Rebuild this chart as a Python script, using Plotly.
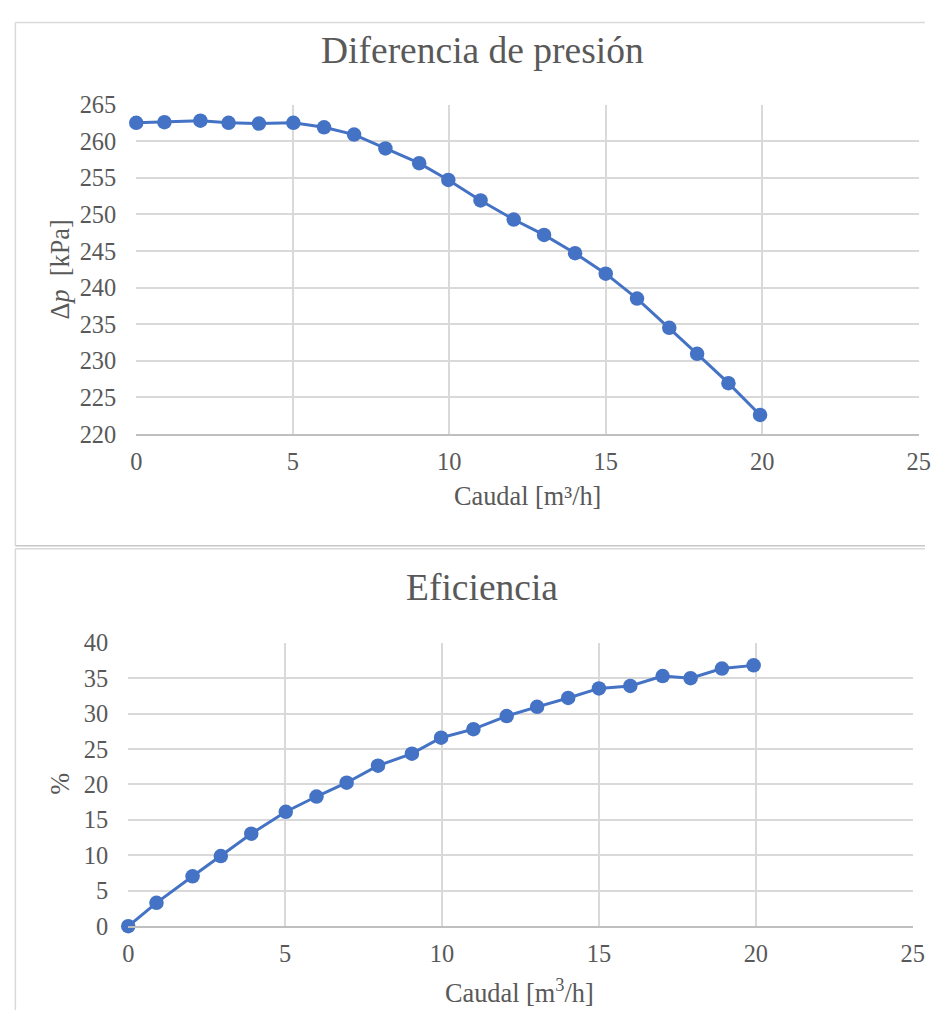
import plotly.graph_objects as go

# ---- data ----
caudal = [0, 0.9, 2.05, 2.95, 3.92, 5.02, 6.0, 6.96, 7.96, 9.04, 9.97,
          11.0, 12.06, 13.03, 14.02, 15.0, 16.0, 17.03, 17.92, 18.92, 19.93]
delta_p = [262.5, 262.6, 262.8, 262.5, 262.4, 262.5, 261.9, 260.9, 259.0, 257.0, 254.7,
           251.9, 249.3, 247.2, 244.7, 241.9, 238.5, 234.5, 230.95, 226.95, 222.6]
eficiencia = [0, 3.3, 7.05, 9.9, 13.05, 16.15, 18.3, 20.25, 22.65, 24.35, 26.6,
              27.8, 29.65, 30.95, 32.2, 33.55, 33.9, 35.3, 35.0, 36.35, 36.8]

title_top = "Diferencia de presión"
title_bot = "Eficiencia"
xlabel_top = "Caudal [m³/h]"
xlabel_bot = "Caudal [m<sup>3</sup>/h]"
ylabel_top = "Δ<i>p</i>\u00a0\u00a0[kPa]"
ylabel_bot = "%"

# figure size (page body margin of 8px around it)
OFF = 8
W, H = 945 - 2 * OFF, 1032 - 2 * OFF
# observed mapping page -> picture: pic = A + B * page
AX, BX = 6.0, 0.98
AY, BY = 11.5, 0.975

def px(x):
    f = (x - AX) / BX - OFF
    return min(max(f / W, 0.0015), 1.0)
def py(y):
    f = (y - AY) / BY - OFF
    return min(max(1 - f / H, 0.0), 0.9985)

BLUE = "#4472C4"
GRID = "#d9d9d9"
TXT = "#595959"
FONT = "Liberation Serif"

fig = go.Figure()
fig.add_trace(go.Scatter(x=caudal, y=delta_p, mode="lines+markers",
                         line=dict(color=BLUE, width=3),
                         marker=dict(color=BLUE, size=14.5),
                         cliponaxis=False, xaxis="x", yaxis="y"))
fig.add_trace(go.Scatter(x=caudal, y=eficiencia, mode="lines+markers",
                         line=dict(color=BLUE, width=3),
                         marker=dict(color=BLUE, size=14.5),
                         cliponaxis=False, xaxis="x2", yaxis="y2"))

common_x = dict(range=[0, 25], dtick=5, tick0=0, showgrid=True, gridcolor=GRID,
                gridwidth=1.5, zeroline=False, showline=True, linecolor="#bfbfbf",
                linewidth=1.5, ticks="", ticklabelstandoff=5,
                tickfont=dict(family=FONT, size=24.4, color=TXT))
common_y = dict(dtick=5, showgrid=True, gridcolor=GRID, gridwidth=1.5,
                zeroline=False, showline=False, ticks="", ticklabelstandoff=19,
                tickfont=dict(family=FONT, size=24.4, color=TXT))

fig.update_layout(
    width=W, height=H, margin=dict(l=0, r=0, t=0, b=0),
    paper_bgcolor="white", plot_bgcolor="white", showlegend=False,
    xaxis=dict(domain=[px(136), px(918)], anchor="y", **common_x),
    yaxis=dict(domain=[py(433), py(103)], anchor="x", range=[220, 265], tick0=220, **common_y),
    xaxis2=dict(domain=[px(128), px(912)], anchor="y2", **common_x),
    yaxis2=dict(domain=[py(926), py(642)], anchor="x2", range=[0, 40], tick0=0, **common_y),
)

# chart frames (left, top and bottom edges only; right edge is off-picture)
def frame_line(x0, y0, x1, y1, color):
    fig.add_shape(type="line", xref="paper", yref="paper", x0=x0, y0=y0, x1=x1, y1=y1,
                  line=dict(color=color, width=1.5), layer="below")

frame_line(px(7), py(8), 1.0, py(8), "#d9d9d9")
frame_line(px(7), py(8), px(7), py(545), "#d9d9d9")
frame_line(px(7), py(545), 1.0, py(545), "#c8c8c8")
frame_line(px(12), py(548), 1.0, py(548), "#d9d9d9")
frame_line(px(12), py(548), px(12), 0.0, "#d9d9d9")

def ann(text, x, y, size, angle=0):
    fig.add_annotation(text=text, x=px(x), y=py(y), xref="paper", yref="paper",
                       showarrow=False, textangle=angle, xanchor="center", yanchor="middle",
                       font=dict(family=FONT, size=size, color=TXT))

ann(title_top, 482, 49, 37.5)
ann(title_bot, 482, 587, 37.5)
ann(xlabel_top, 527, 496, 26.3)
ann(xlabel_bot, 519, 991, 26.3)
ann(ylabel_top, 60, 268, 26.3, -90)
ann(ylabel_bot, 60, 783, 26.3, -90)

fig.write_html("out.html")
